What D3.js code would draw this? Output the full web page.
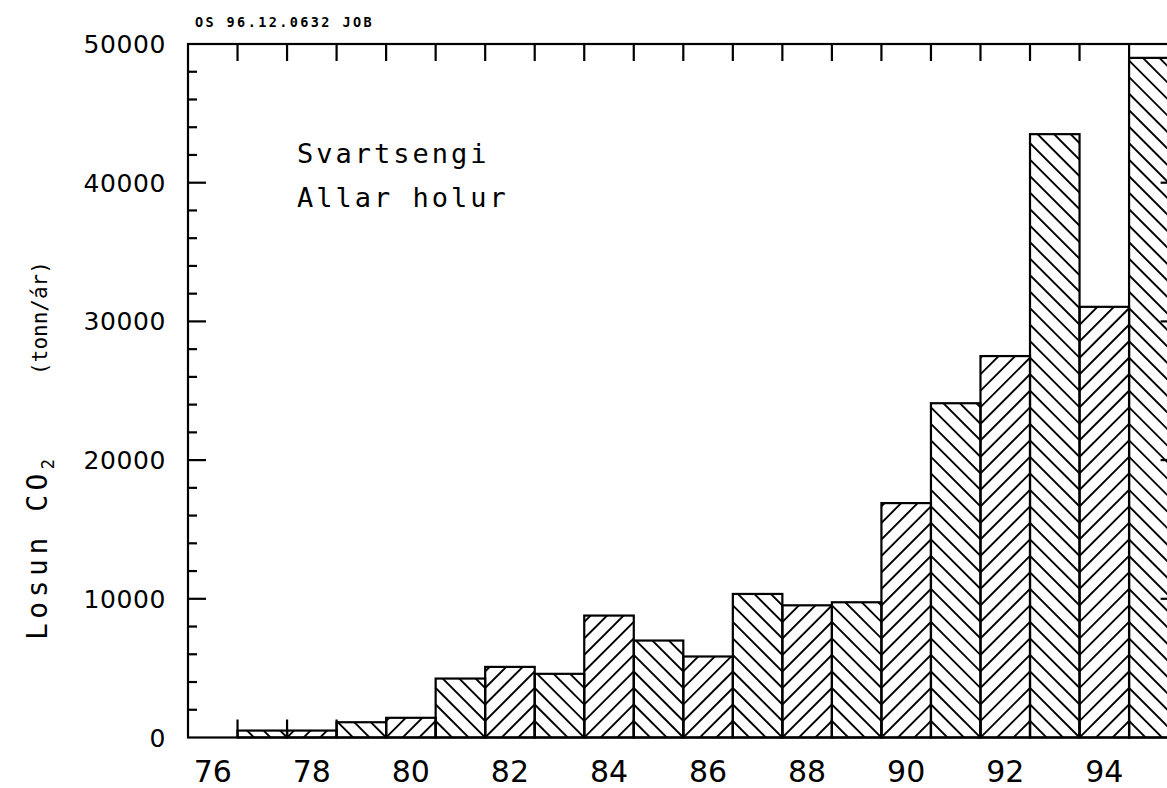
<!DOCTYPE html>
<html>
<head>
<meta charset="utf-8">
<script src="https://cdn.jsdelivr.net/npm/d3@7"></script>
<style>
  html, body { margin: 0; padding: 0; background: #fff; }
  svg { display: block; }
</style>
</head>
<body>
<svg id="chart" width="1167" height="788"></svg>
<script>
// ---- data ----
const years = [76, 77, 78, 79, 80, 81, 82, 83, 84, 85, 86, 87, 88, 89, 90, 91, 92, 93, 94, 95];
const values = [0, 500, 500, 1100, 1420, 4250, 5090, 4590, 8790, 6990, 5840, 10350, 9530, 9750, 16900, 24100, 27500, 43500, 31050, 49000];
const xTickLabels = [76, 78, 80, 82, 84, 86, 88, 90, 92, 94];
const yTickLabels = [0, 10000, 20000, 30000, 40000, 50000];
const yMinorTicks = d3.range(0, 50001, 2000);
const titleLines = ["Svartsengi", "Allar holur"];
const noteText = "OS 96.12.0632 JOB";

// ---- layout ----
const svg = d3.select("#chart");
const pL = 188, pR = 1178.6, pT = 44, pB = 737.5;
const x = d3.scaleLinear().domain([75.5, 95.5]).range([pL, pR]);
const y = d3.scaleLinear().domain([0, 50000]).range([pB, pT]);
const ink = "#000";

const defs = svg.append("defs");
const barsG = svg.append("g");

years.forEach((yr, i) => {
  const v = values[i];
  if (v <= 0) return;
  const x0 = x(yr - 0.5), x1 = x(yr + 0.5), w = x1 - x0;
  const yb = y(0), yt = y(v), H = yb - yt;
  const s = w / 3;
  const id = "clip" + yr;
  defs.append("clipPath").attr("id", id)
    .append("rect").attr("x", x0).attr("y", yt).attr("width", w).attr("height", H);
  const g = barsG.append("g").attr("clip-path", `url(#${id})`);
  const n = Math.ceil((H + w) / s) + 1;
  const back = (yr % 2 === 1); // odd years "\" , even years "/"
  for (let k = 1; k <= n; k++) {
    const yy = yb - k * s;
    if (back) {
      g.append("line").attr("x1", x0).attr("y1", yy).attr("x2", x0 + w + 2).attr("y2", yy + w + 2);
    } else {
      g.append("line").attr("x1", x1).attr("y1", yy).attr("x2", x0 - 2).attr("y2", yy + w + 2);
    }
  }
  g.selectAll("line").attr("stroke", ink).attr("stroke-width", 1.9);
  barsG.append("rect").attr("x", x0).attr("y", yt).attr("width", w).attr("height", H)
    .attr("fill", "none").attr("stroke", ink).attr("stroke-width", 2.2);
});

// ---- frame ----
const axG = svg.append("g").attr("stroke", ink).attr("stroke-width", 2.2).attr("fill", "none");
axG.append("rect").attr("x", pL).attr("y", pT).attr("width", pR - pL).attr("height", pB - pT);

// year-boundary ticks (top and bottom)
const bounds = d3.range(76.5, 95.5, 1);
bounds.forEach(b => {
  axG.append("line").attr("x1", x(b)).attr("x2", x(b)).attr("y1", pT).attr("y2", pT + 17);
  axG.append("line").attr("x1", x(b)).attr("x2", x(b)).attr("y1", pB).attr("y2", pB - 18);
});
// y ticks left and right
yMinorTicks.forEach(t => {
  if (t === 0 || t === 50000) return;
  const len = (t % 10000 === 0) ? 18 : 9;
  axG.append("line").attr("x1", pL).attr("x2", pL + len).attr("y1", y(t)).attr("y2", y(t));
  axG.append("line").attr("x1", pR).attr("x2", pR - len).attr("y1", y(t)).attr("y2", y(t));
});

// ---- tick labels ----
svg.append("g").selectAll("text").data(yTickLabels).join("text")
  .attr("x", 166).attr("y", d => y(d)).attr("dy", "0.36em")
  .attr("text-anchor", "end")
  .attr("font-family", "DejaVu Sans").attr("font-size", 25).attr("fill", ink)
  .attr("letter-spacing", 0.6)
  .text(d => d);

svg.append("g").selectAll("text").data(xTickLabels).join("text")
  .attr("x", d => x(d)).attr("y", 782)
  .attr("text-anchor", "middle")
  .attr("font-family", "DejaVu Sans").attr("font-size", 30).attr("fill", ink)
  .text(d => d);

// ---- titles ----
svg.append("g").selectAll("text").data(titleLines).join("text")
  .attr("x", 297).attr("y", (d, i) => 163 + i * 44)
  .attr("font-family", "DejaVu Sans Mono").attr("font-size", 27)
  .attr("letter-spacing", 3).attr("fill", ink)
  .text(d => d);

svg.append("text").attr("x", 195).attr("y", 27)
  .attr("font-family", "DejaVu Sans Mono").attr("font-weight", "bold").attr("font-size", 13.5)
  .attr("letter-spacing", 2.4).attr("fill", ink)
  .text(noteText);

// ---- y axis label ----
const yl = svg.append("text")
  .attr("transform", "translate(47,640) rotate(-90)")
  .attr("text-anchor", "start")
  .attr("font-family", "DejaVu Sans Mono").attr("fill", ink);
yl.append("tspan").attr("font-size", 28).attr("letter-spacing", 4.5).text("Losun CO");
yl.append("tspan").attr("font-size", 17).attr("dy", 7).attr("letter-spacing", 2).text("2");
yl.append("tspan").attr("font-size", 21).attr("dy", -7).attr("dx", 82).attr("letter-spacing", 0).text("(tonn/ár)");
</script>
</body>
</html>
